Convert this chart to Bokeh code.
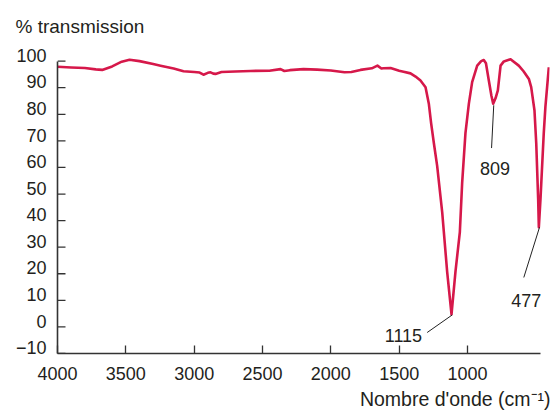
from bokeh.plotting import figure
from bokeh.models import FixedTicker, Label, Range1d, LinearAxis, Title
from bokeh.embed import file_html
from bokeh.resources import INLINE

# IR spectrum
wavenumber = [4000, 3900, 3800, 3720, 3673, 3600, 3530, 3473, 3400, 3300, 3246, 3150,
              3078, 3000, 2960, 2932, 2900, 2880, 2860, 2844, 2800, 2700, 2588, 2450,
              2368, 2340, 2300, 2200, 2100, 2000, 1900, 1850, 1783, 1700, 1659, 1630,
              1615, 1563, 1500, 1468, 1417, 1380, 1344, 1307, 1283, 1266, 1246, 1222,
              1185, 1173, 1149, 1117, 1088, 1056, 1039, 1015, 990, 966, 929, 900, 881,
              865, 844, 825, 812, 795, 778, 758, 734, 685, 625, 590, 551, 534, 510, 497,
              483, 478, 466, 442, 430, 405]
transmission = [97.9, 97.6, 97.4, 96.9, 96.7, 98.0, 99.8, 100.5, 100.0, 98.9, 98.3, 97.2,
                96.2, 95.9, 95.7, 94.9, 95.6, 95.8, 95.3, 95.2, 95.9, 96.1, 96.3, 96.4,
                97.0, 96.3, 96.6, 97.0, 96.8, 96.5, 95.8, 95.9, 96.7, 97.3, 98.3, 97.2,
                97.3, 97.4, 96.4, 96.0, 95.4, 94.2, 92.7, 90.2, 84.0, 76.6, 69.1, 60.6,
                43.1, 35.7, 20.8, 4.7, 20.8, 35.7, 54.3, 72.9, 84.0, 92.1, 98.3, 100.0, 100.4,
                99.2, 92.7, 87.0, 84.0, 86.0, 89.0, 98.3, 99.9, 100.7, 98.3, 96.2, 93.3, 90.2, 81.5, 69.1,
                48.1, 37.5, 48.1, 72.9, 82.8, 97.7]

x_ticks = [4000, 3500, 3000, 2500, 2000, 1500, 1000]
y_ticks = [-10, 0, 10, 20, 30, 40, 50, 60, 70, 80, 90, 100]

peak_labels = ["1115", "809", "477"]

FONT = "Liberation Sans"
TXT = "#231f20"
RED = "#d6184a"
AX = "#333333"

Y0, Y1 = -10, 104          # plotted transmission range
LIFT = 2.2                 # tick labels sit on their ticks (baseline at the tick)
X0, X1 = 4000, 400
TICK_LEN = 58.5            # inner tick length, in cm-1 (about 8 px)

p = figure(width=559, height=414, output_backend="svg", toolbar_location=None,
           x_range=Range1d(X0, X1), y_range=Range1d(Y0, Y1), y_axis_location=None)
p.extra_y_ranges = {"ylab": Range1d(Y0 - LIFT, Y1 - LIFT)}
p.min_border_left = 57
p.min_border_right = 10
p.min_border_top = 46
p.min_border_bottom = 61
p.outline_line_color = None
p.xgrid.visible = False
p.ygrid.visible = False
p.background_fill_color = "white"
p.border_fill_color = "white"

p.title.text = "% transmission"
p.title.text_font = FONT
p.title.text_font_size = "19px"
p.title.text_font_style = "normal"
p.title.text_color = TXT
p.title.align = "left"
p.title.offset = -42
p.title.standoff = 27

xa = p.xaxis[0]
xa.axis_line_color = AX
xa.axis_line_width = 1.6
xa.major_tick_line_color = AX
xa.major_tick_line_width = 1.3
xa.major_tick_in = 8
xa.major_tick_out = 0
xa.minor_tick_line_color = None
xa.major_label_text_font = FONT
xa.major_label_text_font_size = "18px"
xa.major_label_text_color = TXT
xa.ticker = FixedTicker(ticks=x_ticks)
xa.bounds = (466, 4000)
xa.major_label_standoff = 13

# y axis: line and labels (labels lifted so their baseline sits on the tick)
ya = LinearAxis(y_range_name="ylab", ticker=FixedTicker(ticks=y_ticks))
ya.bounds = (-10 - LIFT, 100 - LIFT)
ya.axis_line_color = AX
ya.axis_line_width = 1.6
ya.major_tick_line_color = None
ya.minor_tick_line_color = None
ya.major_tick_in = 0
ya.major_tick_out = 0
ya.major_label_standoff = 11
ya.major_label_text_font = FONT
ya.major_label_text_font_size = "18px"
ya.major_label_text_color = TXT
p.add_layout(ya, "left")

# y tick marks pointing into the plot
p.segment(x0=[X0] * len(y_ticks), y0=y_ticks, x1=[X0 - TICK_LEN] * len(y_ticks), y1=y_ticks,
          line_color=AX, line_width=1.3)

p.line(wavenumber, transmission, line_color=RED, line_width=2.6, line_join="round")

# leader lines for the annotated peaks
p.segment(x0=[1112, 808, 473], y0=[4.5, 83.4, 37.5],
          x1=[1295, 824, 588], y1=[-2.1, 67.3, 18.6],
          line_color="#222222", line_width=1)

p.add_layout(Label(x=1332, y=-3.35, text=peak_labels[0], text_font=FONT, text_font_size="18px",
                   text_color=TXT, text_align="right", text_baseline="alphabetic"))
p.add_layout(Label(x=799, y=59.5, text=peak_labels[1], text_font=FONT, text_font_size="18px",
                   text_color=TXT, text_align="center", text_baseline="alphabetic"))
p.add_layout(Label(x=570, y=10.0, text=peak_labels[2], text_font=FONT, text_font_size="18px",
                   text_color=TXT, text_align="center", text_baseline="alphabetic"))

xt = Title(text="Nombre d'onde (cm\u207b\u00b9)", text_font=FONT, text_font_size="19.5px",
           text_font_style="normal", text_color=TXT, align="right", offset=-1, standoff=6)
p.add_layout(xt, "below")

open("out.html", "w").write(file_html(p, INLINE))
